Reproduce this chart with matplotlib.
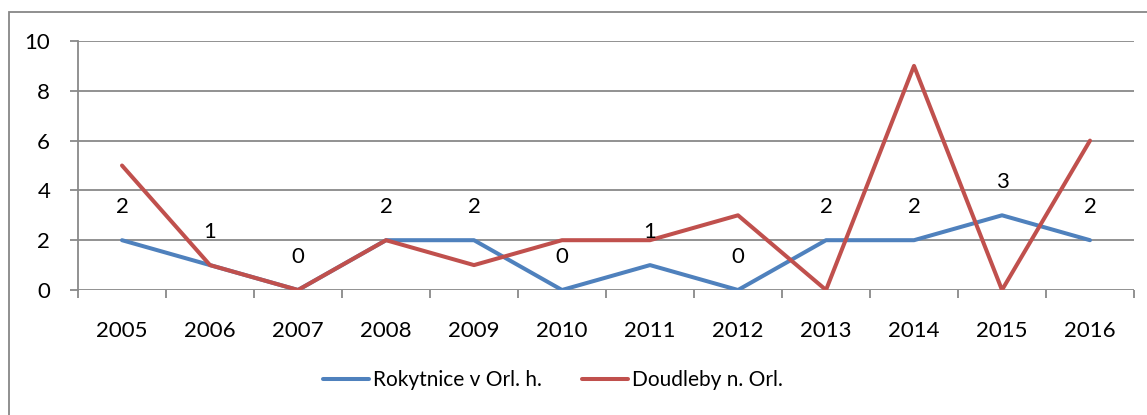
import matplotlib
matplotlib.use("Agg")
import matplotlib.pyplot as plt
from matplotlib.patches import Rectangle

years = ["2005", "2006", "2007", "2008", "2009", "2010", "2011", "2012", "2013", "2014", "2015", "2016"]
rokytnice = [2, 1, 0, 2, 2, 0, 1, 0, 2, 2, 3, 2]
doudleby = [5, 1, 0, 2, 1, 2, 2, 3, 0, 9, 0, 6]
series_names = ["Rokytnice v Orl. h.", "Doudleby n. Orl."]
yticks = [0, 2, 4, 6, 8, 10]

plt.rcParams['font.family'] = ['Lato', 'DejaVu Sans']
FS = 16

W, H = 1147, 415
fig = plt.figure(figsize=(W / 100, H / 100), dpi=100)

# outer chart border
fig.patches.append(Rectangle((9 / W, -0.1), 1.2, (H - 12) / H + 0.1, transform=fig.transFigure,
                             fill=False, edgecolor="#878787", linewidth=1.3))

ax = fig.add_axes([78 / W, 1 - 290 / H, (1134 - 78) / W, (290 - 41) / H])
x = list(range(len(years)))
ax.set_xlim(-0.5, len(years) - 0.5)
ax.set_ylim(0, 10)
ax.set_yticks(yticks)
ax.set_yticklabels([str(v) for v in yticks])
ax.set_xticks(x)
ax.set_xticklabels(years)
ax.set_xticks([i - 0.5 for i in range(len(years) + 1)], minor=True)

for v in yticks:
    ax.axhline(v, color="#898989", linewidth=1.3, zorder=1)

for s in ["top", "right", "bottom"]:
    ax.spines[s].set_visible(False)
ax.spines["left"].set_color("#898989")
ax.spines["left"].set_linewidth(1.3)

ax.tick_params(axis="y", length=6, width=1.3, color="#898989", labelsize=FS, pad=14)
ax.tick_params(axis="x", which="major", length=0, labelsize=FS, pad=22)
ax.tick_params(axis="x", which="minor", length=6, width=1.3, color="#898989")

l1, = ax.plot(x, rokytnice, color="#4F81BD", linewidth=2.9, solid_capstyle="round",
              solid_joinstyle="round", zorder=3, label=series_names[0])
l2, = ax.plot(x, doudleby, color="#C0504D", linewidth=2.9, solid_capstyle="round",
              solid_joinstyle="round", zorder=4, label=series_names[1])

for xi, v in zip(x, rokytnice):
    ax.annotate(str(v), (xi, v), xytext=(0, 33), textcoords="offset pixels",
                ha="center", va="center", fontsize=FS, zorder=5)

fig.legend(handles=[l1, l2], loc="center", bbox_to_anchor=(553 / W, 1 - 380 / H), ncol=2,
           frameon=False, fontsize=15, handlelength=2.2, handletextpad=0.2, columnspacing=1.9)

fig.savefig("out.png", dpi=100)
